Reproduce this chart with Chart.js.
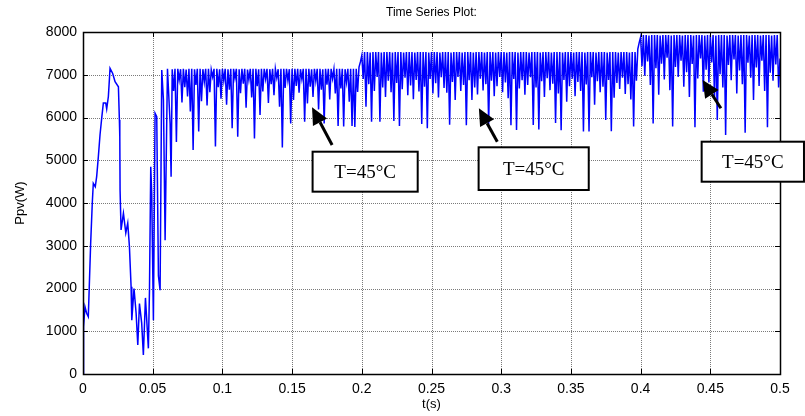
<!DOCTYPE html>
<html>
<head>
<meta charset="utf-8">
<script src="https://cdn.jsdelivr.net/npm/chart.js@4.4.0/dist/chart.umd.min.js"></script>
<style>
  html, body { margin: 0; padding: 0; background: #fff; }
</style>
</head>
<body>
<canvas id="pvChart" width="805" height="416"></canvas>
<script>
// Ppv(W) against t(s)
// start-up transient (irregular sample times)
const tStart = [0, 0.0002, 0.0006, 0.0014, 0.0026, 0.0038, 0.0045, 0.0055, 0.0067, 0.0074,
  0.0088, 0.0098, 0.011, 0.0122, 0.0134, 0.0146, 0.0163, 0.017, 0.0182, 0.0194,
  0.0213, 0.023, 0.0254, 0.0261, 0.0264, 0.0266, 0.0273, 0.029, 0.0307, 0.0321,
  0.0333, 0.0345, 0.035, 0.0366, 0.0381, 0.0393, 0.0405, 0.0421, 0.0433, 0.0448,
  0.0469, 0.0477, 0.0486, 0.0493, 0.0505, 0.0517, 0.0529, 0.0541, 0.0553, 0.0565,
  0.0577, 0.0589, 0.0606, 0.0625, 0.0632];
const pStart = [0, 950, 1100, 1575, 1420, 1340, 2040, 3060, 4030, 4460,
  4380, 4615, 5080, 5590, 5980, 6340, 6340, 6200, 6490, 7150,
  7030, 6840, 6720, 5940, 5550, 4300, 3370, 3760, 3300, 3530,
  2980, 2040, 1260, 2000, 1420, 680, 1650, 1190, 445, 1780,
  600, 1980, 4850, 4230, 1260, 6100, 6020, 2300, 1960, 7110,
  6410, 3130, 7140, 5860, 4615];

// steady part, one sample per millisecond
const dt = 0.001;
const seg1Start = 0.064;
const pSeg1 = [
  7130, 6620, 7140, 5430, 7140, 6880, 7130, 6350, 7140, 6710,
  7120, 6490, 7140, 6140, 7140, 5240, 7130, 6760, 7140, 5670,
  7140, 6380, 7130, 6830, 7140, 6280, 7140, 6590, 7120, 6950,
  7140, 5320, 7140, 6710, 7130, 6440, 7140, 6860, 7140, 6300,
  7130, 6650, 7140, 5750, 7140, 6920, 7140, 5550, 7130, 6570,
  7140, 6790, 7140, 6230, 7120, 6880, 7140, 6470, 7140, 5510,
  7140, 6730, 7130, 6060, 7140, 6610, 7140, 6900, 7140, 6340,
  7130, 6780, 7140, 6520, 7140, 6930, 7130, 6250, 7140, 5300,
  7140, 6690, 7140, 6860, 7130, 5860, 7140, 6410, 7140, 6740,
  7140, 6580, 7130, 6900, 7140, 5900, 7140, 6330, 7140, 6720,
  7130, 6480, 7140, 6850, 7140, 6190, 7140, 6650, 7130, 5860,
  7140, 6770, 7140, 6420, 7140, 6910, 7130, 6560, 7140, 5800,
  7140, 6680, 7140, 5790, 7130, 6830, 7140, 6370, 7140, 5800,
  7140, 5780, 7140, 6600, 7180, 7300];
const seg2Start = 0.2;
const pSeg2 = [
  7450, 6900, 7530, 6250,
  7530, 6780, 7520, 5900, 7530, 6620, 7530, 6950, 7530, 5900,
  7520, 6700, 7530, 6480, 7530, 6860, 7530, 6590, 7520, 5920,
  7530, 6810, 7530, 5800, 7530, 6660, 7520, 6930, 7530, 6520,
  7530, 6750, 7530, 6430, 7520, 6880, 7530, 6610, 7530, 5850,
  7530, 6720, 7530, 5750, 7520, 6900, 7530, 6560, 7530, 6800,
  7530, 6470, 7520, 6940, 7530, 6690, 7530, 6580, 7530, 5830,
  7520, 6830, 7530, 6410, 7530, 6950, 7530, 6620, 7520, 6760,
  7530, 5820, 7530, 6870, 7530, 6410, 7520, 6700, 7530, 6540,
  7530, 6910, 7530, 6630, 7520, 6780, 7530, 5840, 7530, 6860,
  7530, 6500, 7520, 6730, 7530, 6950, 7530, 6590, 7530, 6820,
  7520, 6450, 7530, 5820, 7530, 6900, 7530, 5710, 7520, 6680,
  7530, 6870, 7530, 6530, 7530, 6760, 7520, 6940, 7530, 5825,
  7530, 6700, 7530, 5720, 7520, 6850, 7530, 6480, 7530, 6920,
  7530, 6640, 7520, 6790, 7530, 5870, 7530, 6560, 7530, 5700,
  7520, 6880, 7530, 6370, 7530, 6730, 7530, 6910, 7520, 6500,
  7530, 6830, 7530, 6620, 7530, 5670, 7520, 6770, 7530, 5670,
  7530, 6940, 7530, 6300, 7520, 6850, 7530, 6590, 7530, 6720,
  7530, 5940, 7520, 6880, 7530, 5680, 7530, 6460, 7530, 6810,
  7520, 6670, 7530, 6930, 7530, 6550, 7530, 6780, 7520, 6420,
  7530, 5790, 7530, 6860, 7600, 7750];
const seg3Start = 0.4;
const pSeg3 = [
  7880, 7200, 7930, 6980,
  7930, 7310, 7920, 6760, 7930, 5860, 7930, 7150, 7930, 6530,
  7920, 7260, 7930, 6890, 7930, 7400, 7930, 6640, 7920, 5790,
  7930, 7180, 7930, 6950, 7930, 7330, 7920, 6720, 7930, 7060,
  7930, 6480, 7930, 7250, 7920, 5770, 7930, 6910, 7930, 7380,
  7930, 6600, 7920, 7120, 7930, 6820, 7930, 7290, 7930, 6450,
  7920, 5940, 7930, 7010, 7930, 6700, 7930, 5590, 7920, 7230,
  7930, 6870, 7930, 7360, 7930, 6560, 7920, 7100, 7930, 6780,
  7930, 5645, 7930, 7280, 7920, 6930, 7930, 6410, 7930, 7170,
  7930, 6740, 7920, 7330, 7930, 6620, 7930, 5770, 7930, 7050,
  7920, 6860, 7930, 7240, 7930, 6700, 7380];

const xTicks = [0, 0.05, 0.1, 0.15, 0.2, 0.25, 0.3, 0.35, 0.4, 0.45, 0.5];
const yTicks = [0, 1000, 2000, 3000, 4000, 5000, 6000, 7000, 8000];

// text boxes and arrows, in data units (t, Ppv)
const notes = [
  { text: "T=45°C", box: [0.1647, 5200, 0.2401, 4265], tip: [0.1643, 6239], tail: [0.1787, 5357] },
  { text: "T=45°C", box: [0.2838, 5303, 0.3628, 4304], tip: [0.2840, 6215], tail: [0.2972, 5434] },
  { text: "T=45°C", box: [0.4438, 5434, 0.5172, 4498], tip: [0.4445, 6877], tail: [0.4576, 6215] },
];

const points = tStart.map((t, i) => ({ x: t, y: pStart[i] }));
[[seg1Start, pSeg1], [seg2Start, pSeg2], [seg3Start, pSeg3]].forEach(([t0, arr]) => {
  arr.forEach((p, i) => points.push({ x: +(t0 + i * dt).toFixed(4), y: p }));
});

const sansFont = '"Liberation Sans", Arial, sans-serif';

function drawArrow(ctx, x1, y1, x2, y2) {
  const ang = Math.atan2(y2 - y1, x2 - x1);
  const head = 17, half = 8;
  const bx = x2 - head * Math.cos(ang), by = y2 - head * Math.sin(ang);
  ctx.lineWidth = 3;
  ctx.beginPath();
  ctx.moveTo(x1, y1);
  ctx.lineTo(bx, by);
  ctx.stroke();
  ctx.beginPath();
  ctx.moveTo(x2, y2);
  ctx.lineTo(bx + half * Math.sin(ang), by - half * Math.cos(ang));
  ctx.lineTo(bx - half * Math.sin(ang), by + half * Math.cos(ang));
  ctx.closePath();
  ctx.fill();
}

const matlabLook = {
  id: "matlabLook",
  beforeDatasetsDraw(chart) {
    const { ctx, chartArea: a, scales: { x, y } } = chart;
    ctx.save();
    ctx.strokeStyle = "#7a7a7a";
    ctx.lineWidth = 1;
    ctx.setLineDash([1, 1]);
    ctx.beginPath();
    xTicks.forEach(v => {
      const px = Math.round(x.getPixelForValue(v)) + 0.5;
      ctx.moveTo(px, a.top); ctx.lineTo(px, a.bottom);
    });
    yTicks.forEach(v => {
      const py = Math.round(y.getPixelForValue(v)) + 0.5;
      ctx.moveTo(a.left, py); ctx.lineTo(a.right, py);
    });
    ctx.stroke();
    ctx.restore();
  },
  afterDatasetsDraw(chart) {
    const { ctx, chartArea: a, scales: { x, y } } = chart;
    ctx.save();
    ctx.strokeStyle = "#000";
    ctx.lineWidth = 1;
    ctx.beginPath();
    xTicks.forEach(v => {
      const px = Math.round(x.getPixelForValue(v)) + 0.5;
      ctx.moveTo(px, a.bottom); ctx.lineTo(px, a.bottom - 5);
      ctx.moveTo(px, a.top); ctx.lineTo(px, a.top + 5);
    });
    yTicks.forEach(v => {
      const py = Math.round(y.getPixelForValue(v)) + 0.5;
      ctx.moveTo(a.left, py); ctx.lineTo(a.left + 5, py);
      ctx.moveTo(a.right, py); ctx.lineTo(a.right - 5, py);
    });
    ctx.stroke();
    ctx.lineWidth = 1.5;
    ctx.strokeRect(Math.round(a.left) + 0.5, Math.round(a.top) + 0.5,
      Math.round(a.right - a.left), Math.round(a.bottom - a.top));
    ctx.restore();
  },
  afterDraw(chart) {
    const { ctx, chartArea: a, scales: { x, y } } = chart;
    ctx.save();
    ctx.fillStyle = "#000";
    ctx.font = "12px " + sansFont;
    ctx.textAlign = "center";
    ctx.textBaseline = "middle";
    ctx.fillText("Time Series Plot:", (a.left + a.right) / 2, 13);

    ctx.strokeStyle = "#000";
    ctx.font = '19px "Liberation Serif", "Times New Roman", serif';
    notes.forEach(n => {
      const bx1 = x.getPixelForValue(n.box[0]), by1 = y.getPixelForValue(n.box[1]);
      const bx2 = x.getPixelForValue(n.box[2]), by2 = y.getPixelForValue(n.box[3]);
      ctx.fillStyle = "#fff";
      ctx.fillRect(bx1, by1, bx2 - bx1, by2 - by1);
      ctx.lineWidth = 2;
      ctx.strokeRect(bx1, by1, bx2 - bx1, by2 - by1);
      ctx.fillStyle = "#000";
      ctx.fillText(n.text, (bx1 + bx2) / 2, (by1 + by2) / 2 + 1);
      drawArrow(ctx, x.getPixelForValue(n.tail[0]), y.getPixelForValue(n.tail[1]),
        x.getPixelForValue(n.tip[0]), y.getPixelForValue(n.tip[1]));
    });
    ctx.restore();
  },
};

new Chart(document.getElementById("pvChart"), {
  type: "line",
  data: {
    datasets: [{
      label: "Ppv",
      data: points,
      borderColor: "#0000ff",
      borderWidth: 1.5,
      pointRadius: 0,
      tension: 0,
      fill: false,
    }],
  },
  options: {
    responsive: false,
    animation: false,
    layout: { padding: { top: 32, right: 25, left: 11, bottom: 0 } },
    plugins: { legend: { display: false }, tooltip: { enabled: false } },
    scales: {
      x: {
        type: "linear",
        min: 0,
        max: 0.5,
        afterFit: s => { s.height = 42; },
        afterBuildTicks: s => { s.ticks = xTicks.map(v => ({ value: v })); },
        grid: { display: false, drawTicks: false },
        border: { display: false },
        ticks: {
          color: "#000",
          font: { size: 14, family: sansFont },
          padding: 7,
          maxRotation: 0,
          autoSkip: false,
          callback: v => String(Math.round(v * 100) / 100),
        },
        title: {
          display: true,
          text: "t(s)",
          color: "#000",
          font: { size: 13, family: sansFont },
          padding: { top: 0, bottom: 4 },
        },
      },
      y: {
        min: 0,
        max: 8000,
        afterFit: s => { s.width = 72; },
        afterBuildTicks: s => { s.ticks = yTicks.map(v => ({ value: v })); },
        grid: { display: false, drawTicks: false },
        border: { display: false },
        ticks: {
          color: "#000",
          font: { size: 14, family: sansFont },
          padding: 6,
          callback: v => String(v),
        },
        title: {
          display: true,
          text: "Ppv(W)",
          color: "#000",
          font: { size: 13, family: sansFont },
          padding: { top: 2, bottom: 0 },
        },
      },
    },
  },
  plugins: [matlabLook],
});
</script>
</body>
</html>
